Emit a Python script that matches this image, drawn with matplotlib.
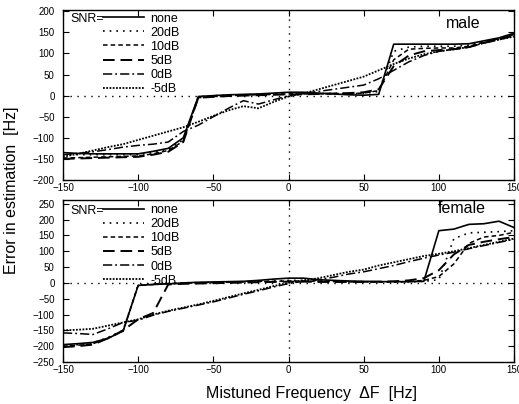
import numpy as np
import matplotlib
matplotlib.use("Agg")
import matplotlib.pyplot as plt

plt.rcParams['font.family'] = ['Liberation Sans', 'DejaVu Sans']

freq = list(range(-150, 151, 10))

snr_labels = ["none", "20dB", "10dB", "5dB", "0dB", "-5dB"]

male_none = [-135, -137, -138, -138, -138, -138, -132, -125, -100, -2, 0, 2, 3, 4, 6, 8, 8, 6, 4, 2, 1, 3, 122, 122, 122, 122, 122, 123, 130, 137, 148]
male_20 = [-140, -140, -140, -140, -140, -140, -135, -128, -105, -3, 0, 1, 2, 3, 4, 5, 5, 5, 5, 5, 5, 10, 105, 115, 117, 117, 117, 120, 128, 136, 145]
male_10 = [-148, -147, -146, -145, -144, -143, -138, -130, -108, -5, -2, 0, 1, 2, 3, 4, 4, 4, 5, 5, 6, 12, 85, 110, 112, 113, 113, 117, 127, 135, 145]
male_5 = [-150, -149, -148, -147, -146, -145, -140, -133, -110, -5, -3, -1, 0, 1, 2, 3, 3, 4, 5, 6, 8, 15, 70, 95, 105, 108, 110, 115, 125, 133, 143]
male_0 = [-140, -137, -133, -128, -122, -118, -115, -110, -85, -70, -50, -30, -12, -20, -10, 0, 5, 10, 15, 20, 25, 40, 60, 80, 95, 105, 110, 115, 125, 133, 142]
male_m5 = [-145, -138, -130, -122, -115, -105, -95, -85, -75, -62, -48, -35, -25, -30, -15, -2, 5, 15, 25, 35, 45, 60, 75, 88, 98, 105, 110, 115, 125, 133, 140]

female_none = [-195, -192, -188, -175, -152, -8, -5, -3, 0, 2, 3, 4, 5, 8, 12, 15, 15, 10, 8, 6, 5, 4, 4, 4, 5, 165, 170, 185, 187, 195, 175]
female_20 = [-198, -195, -190, -172, -150, -6, -3, -2, 0, 1, 2, 3, 4, 5, 6, 8, 8, 7, 6, 5, 4, 3, 3, 3, 5, 10, 140, 158, 160, 162, 165]
female_10 = [-200, -197, -192, -175, -152, -8, -5, -3, -1, 0, 1, 2, 3, 4, 5, 6, 6, 5, 4, 3, 3, 3, 3, 4, 8, 20, 60, 125, 145, 150, 160]
female_5 = [-203, -200, -195, -175, -150, -115, -95, -5, -3, -2, -1, 0, 1, 2, 3, 4, 4, 3, 3, 3, 3, 4, 5, 8, 15, 40, 90, 120, 130, 138, 145]
female_0 = [-158, -160, -163, -145, -125, -118, -102, -90, -80, -70, -60, -48, -36, -25, -13, -2, 5, 10, 18, 28, 35, 45, 55, 67, 78, 88, 97, 108, 118, 128, 138]
female_m5 = [-150, -148, -145, -135, -125, -115, -100, -88, -78, -68, -57, -45, -33, -22, -10, 0, 8, 15, 25, 35, 42, 55, 65, 75, 85, 92, 100, 110, 120, 130, 140]

styles = ['-', (0, (1, 3)), (0, (3, 2)), (0, (6, 3)), (0, (6, 2, 1.2, 2)), (0, (1, 0.8))]
widths = [1.2, 1.2, 1.1, 1.4, 1.1, 1.3]

fig = plt.figure(figsize=(5.19, 4.04), dpi=100)
ax1 = fig.add_axes([63/519, 1-180/404, 451/519, 170/404])
ax2 = fig.add_axes([63/519, 1-362/404, 451/519, 162/404])

def setup(ax, series, ylo, yhi, yticks, title, leg_y, title_y):
    for s, ls, lw, lab in zip(series, styles, widths, snr_labels):
        ax.plot(freq, s, color='black', linestyle=ls, linewidth=lw, label=lab)
    ax.axhline(0, color='black', linestyle=(0, (1, 4)), linewidth=1)
    ax.axvline(0, color='black', linestyle=(0, (1, 4)), linewidth=1)
    ax.set_xlim(-150, 150)
    ax.set_ylim(ylo, yhi)
    ax.set_xticks([-150, -100, -50, 0, 50, 100, 150])
    ax.set_yticks(yticks)
    ax.tick_params(direction='in', length=4, labelsize=7, top=True, right=True)
    ax.tick_params(axis='x', pad=2)
    ax.tick_params(axis='y', pad=6)
    for sp in ax.spines.values():
        sp.set_linewidth(1)
    ax.legend(loc='upper left', bbox_to_anchor=(0.088, leg_y), frameon=False,
              fontsize=9, handlelength=3.3, handletextpad=0.5, labelspacing=0.17,
              borderpad=0, borderaxespad=0)
    ax.text(0.017, leg_y - 0.005, "SNR=", transform=ax.transAxes, fontsize=9,
            va='top', ha='left')
    ax.text(title[1], title_y, title[0], transform=ax.transAxes, fontsize=11.5,
            va='center', ha='left')

setup(ax1, [male_none, male_20, male_10, male_5, male_0, male_m5], -200, 203,
      list(range(-200, 201, 50)), ("male", 0.85), 0.985, 0.92)
setup(ax2, [female_none, female_20, female_10, female_5, female_0, female_m5], -250, 262,
      list(range(-250, 251, 50)), ("female", 0.83), 0.975, 0.945)

fig.text(0.022, 0.53, "Error in estimation  [Hz]", rotation=90, fontsize=11.5,
         ha='center', va='center')
fig.text(0.60, 0.027, "Mistuned Frequency  \u0394F  [Hz]", fontsize=11.5,
         ha='center', va='center')

fig.savefig("out.png", dpi=100)
